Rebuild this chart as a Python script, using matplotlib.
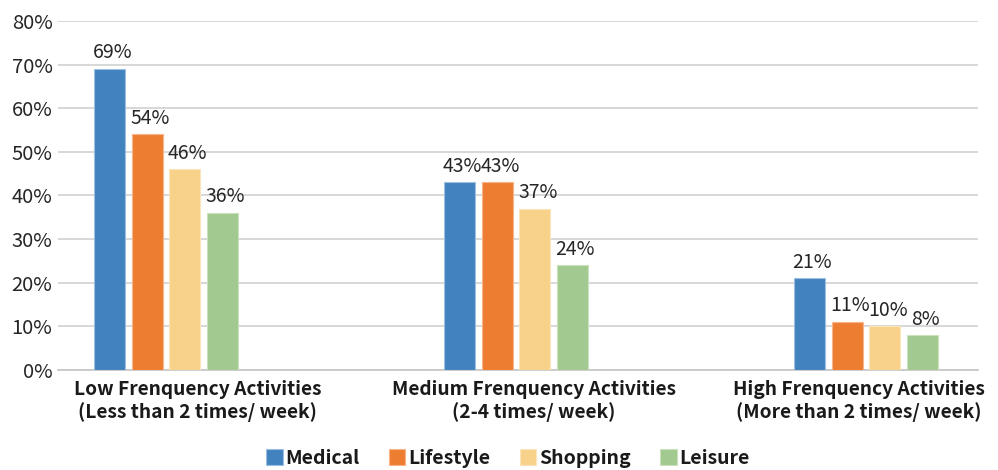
import numpy as np
import matplotlib.pyplot as plt
from matplotlib.ticker import FuncFormatter

plt.rcParams['font.family'] = ['Noto Sans CJK SC', 'DejaVu Sans']

groups = ['Low Frenquency Activities\n(Less than 2 times/ week)',
          'Medium Frenquency Activities\n(2-4 times/ week)',
          'High Frenquency Activities\n(More than 2 times/ week)']
series = ['Medical', 'Lifestyle', 'Shopping', 'Leisure']
medical = [69, 43, 21]
lifestyle = [54, 43, 11]
shopping = [46, 37, 10]
leisure = [36, 24, 8]

colors = ['#4282BE', '#ED7D31', '#F8D28A', '#A2C98F']
edges = ['#9CC0E4', '#F6B58A', '#FBE6BC', '#C9E1BD']
text_col = '#262626'

fig = plt.figure(figsize=(9.98, 4.70), dpi=100)
ax = fig.add_axes([0.0581, 0.2128, 0.9219, 0.7425])

x = np.arange(len(groups))
width = 0.0886
step = 0.1077
offsets = (np.arange(4) - 1.5) * step

for i, (name, vals) in enumerate(zip(series, [medical, lifestyle, shopping, leisure])):
    bars = ax.bar(x + offsets[i], vals, width, color=colors[i], edgecolor=edges[i],
                  linewidth=0.8, label=name, zorder=3)
    for b, v in zip(bars, vals):
        ax.annotate(f'{v}%', (b.get_x() + b.get_width() / 2 + 0.008, v),
                    xytext=(0, 4), textcoords='offset points', ha='center', va='bottom',
                    fontsize=14, color=text_col)

ax.set_ylim(0, 80)
ax.set_xlim(-0.309, 2.32)
ax.set_yticks(np.arange(0, 81, 10))
ax.yaxis.set_major_formatter(FuncFormatter(lambda v, p: f'{v:.0f}%'))
ax.tick_params(axis='y', length=0, labelsize=14.5, labelcolor=text_col, pad=4)
ax.grid(axis='y', color='#D4D4D4', linewidth=1.3, zorder=0)

ax.set_xticks([0.089, 1.051, 1.98])
ax.set_xticklabels(groups, fontsize=13.8, fontweight='bold', color='#1a1a1a', linespacing=1.2)
ax.tick_params(axis='x', length=0, pad=7)

for s in ['top', 'right', 'left']:
    ax.spines[s].set_visible(False)
ax.spines['bottom'].set_color('#C8C8C8')
ax.spines['bottom'].set_linewidth(1.3)

leg = fig.legend(loc='center', bbox_to_anchor=(0.509, 0.025), ncol=4, frameon=False,
                 prop={'size': 14, 'weight': 'bold'}, handlelength=0.85, handleheight=0.85,
                 handletextpad=0.15, columnspacing=1.5)
for t in leg.get_texts():
    t.set_color('#1a1a1a')

fig.savefig('out.png', dpi=100)
